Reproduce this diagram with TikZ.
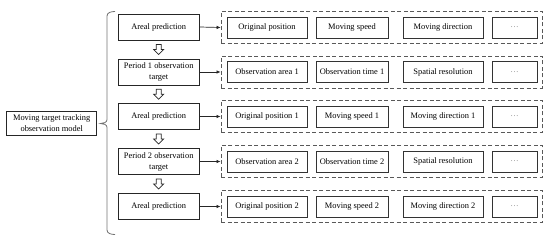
\documentclass[tikz,border=0pt]{standalone}
\usepackage{fontspec}
\setmainfont{Liberation Serif}
\usetikzlibrary{arrows.meta,calc}
\begin{document}
\begin{tikzpicture}[x=1pt,y=-1pt,
  txt/.style={font=\fontsize{8.4}{11}\selectfont, align=center, inner sep=0pt},
  lbox/.style={txt, draw=black!85, line width=0.7pt, minimum width=90pt, minimum height=23.5pt},
  cbox/.style={txt, draw=black!85, line width=0.7pt, minimum width=81pt, minimum height=26pt},
  dbox/.style={draw=black!65, line width=0.8pt, dash pattern=on 4pt off 2.5pt, minimum width=321pt, minimum height=32pt, inner sep=0pt},
  ibox/.style={txt, draw=black!80, line width=0.7pt, minimum height=21pt},
  wa/.style={ibox, minimum width=80pt},
  wb/.style={ibox, minimum width=72pt},
  wd/.style={ibox, minimum width=45pt, text=black!45},
  conn/.style={draw=black!85, line width=0.7pt, -{Latex[length=4pt,width=3.6pt]}},
  hollow/.style={draw=black!85, line width=0.7pt, fill=white},
  bracel/.style={draw=black!55, line width=0.8pt}
]
\useasboundingbox (0,0) rectangle (550,240);

% left model box
\node[lbox] (model) at (51.7,123.5) {Moving target tracking\\observation model};

% brace
\coordinate (bt) at (115,11.5);
\coordinate (bb) at (115,234.5);
\coordinate (bm) at (100.5,123.5);
\draw[bracel] (bt) to[out=180,in=90] (107,16) -- (107,119.5) to[out=-90,in=0] (bm)
  to[out=0,in=90] (107,127.5) -- (107,230) to[out=-90,in=180] (bb);

% column boxes
\node[cbox] (c1) at (158.7,27) {Areal prediction};
\node[cbox] (c2) at (158.7,72) {Period 1 observation\\target};
\node[cbox] (c3) at (158.7,116.5) {Areal prediction};
\node[cbox] (c4) at (158.7,161.5) {Period 2 observation\\target};
\node[cbox] (c5) at (158.7,206.5) {Areal prediction};

% hollow down arrows
\foreach \a/\b in {c1/c2,c2/c3,c3/c4,c4/c5}{
  \coordinate (m) at ($(\a.south)!0.5!(\b.north)$);
  \draw[hollow] ($(m)+(-2.5,-5)$) -- ($(m)+(2.5,-5)$) -- ($(m)+(2.5,0)$) -- ($(m)+(5,0)$)
     -- ($(m)+(0,5)$) -- ($(m)+(-5,0)$) -- ($(m)+(-2.5,0)$) -- cycle;
}

% dashed group boxes
\node[dbox] (d1) at (381.5,27.5) {};
\node[dbox] (d2) at (381.5,72) {};
\node[dbox] (d3) at (381.5,116.5) {};
\node[dbox] (d4) at (381.5,161.5) {};
\node[dbox] (d5) at (381.5,206.5) {};

\foreach \i in {1,...,5}{
  \draw[conn] (c\i.east) -- (d\i.west);
}

% inner boxes
\node[wa] (a1) at (267,27.5) {Original position};
\node[wb] (b1) at (352,27.5) {Moving speed};
\node[wa] (e1) at (443,27.5) {Moving direction};
\node[wd] (f1) at (514.5,27.5) {\ldots};

\node[wa] (a2) at (267,72) {Observation area 1};
\node[wb] (b2) at (352,72) {Observation time 1};
\node[wa] (e2) at (443,72) {Spatial resolution};
\node[wd] (f2) at (514.5,72) {\ldots};

\node[wa] (a3) at (267,116.5) {Original position 1};
\node[wb] (b3) at (352,116.5) {Moving speed 1};
\node[wa] (e3) at (443,116.5) {Moving direction 1};
\node[wd] (f3) at (514.5,116.5) {\ldots};

\node[wa] (a4) at (267,161.5) {Observation area 2};
\node[wb] (b4) at (352,161.5) {Observation time 2};
\node[wa] (e4) at (443,161.5) {Spatial resolution};
\node[wd] (f4) at (514.5,161.5) {\ldots};

\node[wa] (a5) at (267,206.5) {Original position 2};
\node[wb] (b5) at (352,206.5) {Moving speed 2};
\node[wa] (e5) at (443,206.5) {Moving direction 2};
\node[wd] (f5) at (514.5,206.5) {\ldots};
\end{tikzpicture}
\end{document}
